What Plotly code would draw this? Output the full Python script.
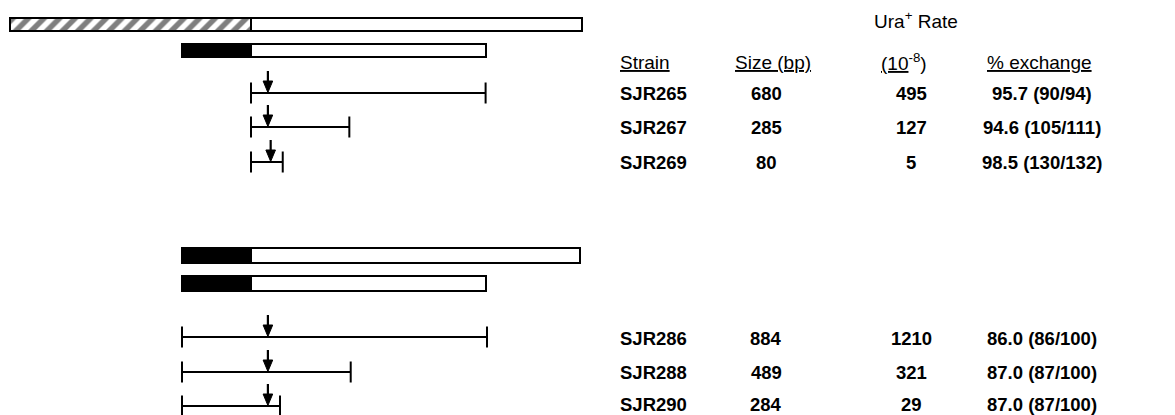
import plotly.graph_objects as go

# ---------------- data (bp coordinates, junction = 0) ----------------
strains_top = ["SJR265", "SJR267", "SJR269"]
sizes_top = [680, 285, 80]
rates_top = [495, 127, 5]
pct_top = ["95.7 (90/94)", "94.6 (105/111)", "98.5 (130/132)"]

strains_bot = ["SJR286", "SJR288", "SJR290"]
sizes_bot = [884, 489, 284]
rates_bot = [1210, 321, 29]
pct_bot = ["86.0 (86/100)", "87.0 (87/100)", "87.0 (87/100)"]

hatched_region = [-700, 0]
black_region = [-200, 0]
top_chrom_end = 960
top_plasmid_end = 680
bot_long_end = 955
bot_short_end = 680

seg_start_top = [0, 0, 0]
seg_end_top = [680, 285, 92]
arrow_top = [49, 49, 57]

seg_start_bot = [-200, -200, -200]
seg_end_bot = [684, 289, 84]
arrow_bot = [49, 49, 49]

# ---------------- layout constants (pixels) ----------------
W, H = 1175, 415
PX_PER_BP = 0.345
JUNCTION_PX = 251
x_range = [-JUNCTION_PX / PX_PER_BP, (W - JUNCTION_PX) / PX_PER_BP]

bar_rows = [24.5, 50.5, 255.5, 283.5]
bar_thick = [13, 13, 15, 15]
seg_rows_top = [93, 127, 162]
seg_rows_bot = [337, 372, 406]
text_rows_bot = [338, 372, 404.5]
tick_half = 10.5
LW = 2

FAMILY = "Liberation Sans, Arial, Helvetica, sans-serif"
FONT = dict(family=FAMILY, size=19, color="black")
FONT_B = dict(family=FAMILY, size=18.5, color="black", weight="bold")
col_strain = 618
col_size = 766
col_rate = 911
col_pct = 1042

fig = go.Figure()


def add_bar(row, thick, x0, x1, fill, pattern=None):
    marker = dict(color=fill, line=dict(color="black", width=LW))
    if pattern:
        marker["pattern"] = pattern
    fig.add_trace(go.Bar(
        y=[row], x=[x1 - x0], base=[x0], orientation="h", width=[thick],
        marker=marker, showlegend=False, hoverinfo="skip"))


hatch = dict(shape="/", size=11, solidity=0.5, fgcolor="black", bgcolor="white", fillmode="overlay")
# top chromosome: hatched + white
add_bar(bar_rows[0], bar_thick[0], hatched_region[0], hatched_region[1], "white", hatch)
add_bar(bar_rows[0], bar_thick[0], 0, top_chrom_end, "white")
# top plasmid: black + white
add_bar(bar_rows[1], bar_thick[1], black_region[0], black_region[1], "black")
add_bar(bar_rows[1], bar_thick[1], 0, top_plasmid_end, "white")
# bottom constructs
add_bar(bar_rows[2], bar_thick[2], black_region[0], black_region[1], "black")
add_bar(bar_rows[2], bar_thick[2], 0, bot_long_end, "white")
add_bar(bar_rows[3], bar_thick[3], black_region[0], black_region[1], "black")
add_bar(bar_rows[3], bar_thick[3], 0, bot_short_end, "white")


def add_segments(starts, ends, rows, arrows):
    xs, ys = [], []
    ax, ay = [], []
    hx, hy = [], []
    hw = 4.8 / PX_PER_BP
    for s, e, r, a in zip(starts, ends, rows, arrows):
        xs += [s, e, None, s, s, None, e, e, None]
        ys += [r, r, None, r - tick_half, r + tick_half, None, r - tick_half, r + tick_half, None]
        ax += [a, a, None]
        ay += [r - 22, r - 10, None]
        hx += [a - hw, a + hw, a, a - hw, None]
        hy += [r - 12, r - 12, r - 0.5, r - 12, None]
    fig.add_trace(go.Scatter(x=xs, y=ys, mode="lines", line=dict(color="black", width=LW),
                             showlegend=False, hoverinfo="skip"))
    fig.add_trace(go.Scatter(x=ax, y=ay, mode="lines", line=dict(color="black", width=2.2),
                             showlegend=False, hoverinfo="skip"))
    fig.add_trace(go.Scatter(x=hx, y=hy, mode="lines", fill="toself", fillcolor="black",
                             line=dict(color="black", width=1),
                             showlegend=False, hoverinfo="skip"))


add_segments(seg_start_top, seg_end_top, seg_rows_top, arrow_top)
add_segments(seg_start_bot, seg_end_bot, seg_rows_bot, arrow_bot)

ann = []


def txt(x, y, t, anchor="center", font=FONT):
    ann.append(dict(x=x / W, xref="paper", y=y, yref="y", text=t, showarrow=False,
                    xanchor=anchor, yanchor="middle", font=font))


txt(916, 20, "Ura<sup>+</sup> Rate")
txt(col_strain, 62, "<u>Strain</u>", "left")
txt(773, 62, "<u>Size (bp)</u>")
txt(904, 62, "<u>(10</u><sup>-8</sup>)")
txt(1039, 62, "<u>% exchange</u>")

for s, sz, r, p, row in zip(strains_top, sizes_top, rates_top, pct_top, seg_rows_top):
    txt(col_strain, row, s, "left", FONT_B)
    txt(col_size, row, str(sz), font=FONT_B)
    txt(col_rate, row, str(r), font=FONT_B)
    txt(col_pct, row, p, font=FONT_B)

for s, sz, r, p, row in zip(strains_bot, sizes_bot, rates_bot, pct_bot, text_rows_bot):
    txt(col_strain, row, s, "left", FONT_B)
    txt(col_size, row, str(sz), font=FONT_B)
    txt(col_rate, row, str(r), font=FONT_B)
    txt(col_pct, row, p, font=FONT_B)

fig.update_layout(
    width=W, height=H, margin=dict(l=0, r=0, t=0, b=0),
    paper_bgcolor="white", plot_bgcolor="white",
    barmode="overlay", bargap=0,
    annotations=ann,
    xaxis=dict(range=x_range, visible=False, fixedrange=True),
    yaxis=dict(range=[H, 0], visible=False, fixedrange=True),
)

fig.write_html(
    "out.html",
    config={"displayModeBar": False},
    post_script="document.body.style.margin='0';document.body.style.overflow='hidden';",
)
